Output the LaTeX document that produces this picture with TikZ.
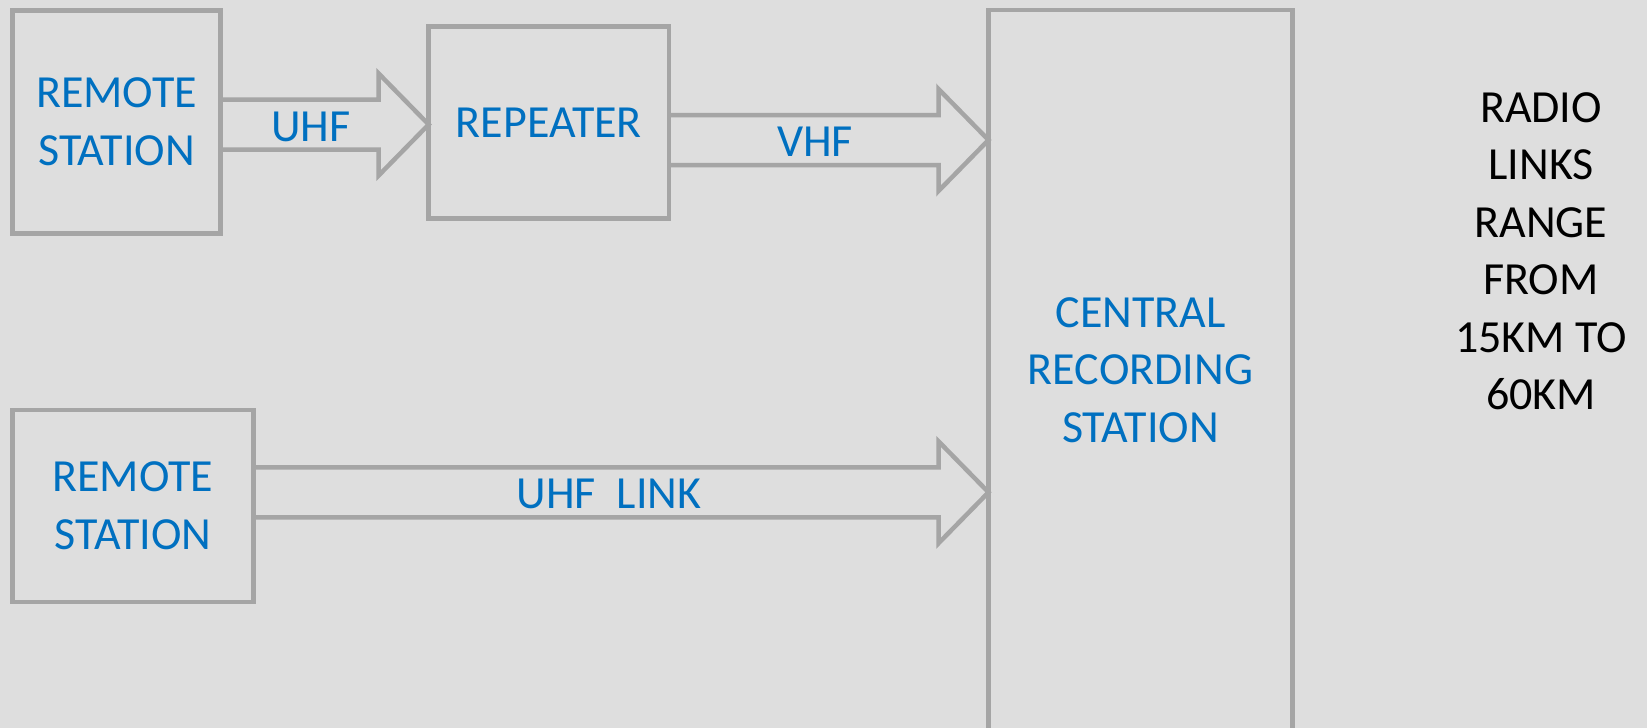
\documentclass[tikz,border=0pt]{standalone}
\usepackage{fontspec}
\setmainfont{Carlito}
\usetikzlibrary{calc}
\definecolor{bg}{HTML}{DEDEDE}
\definecolor{boxgray}{HTML}{A5A5A5}
\definecolor{txtblue}{HTML}{0070C0}
\tikzset{
  stationbox/.style={draw=boxgray, line width=4.5pt, rectangle, inner sep=0pt, outer sep=0pt,
    text=txtblue, align=center, font=\fontsize{46pt}{57.5pt}\selectfont},
  linklabel/.style={text=txtblue, inner sep=0pt, font=\fontsize{46pt}{57.5pt}\selectfont},
  notetext/.style={text=black, align=center, inner sep=0pt, font=\fontsize{46pt}{57.5pt}\selectfont},
  arrowline/.style={draw=boxgray, line width=4.5pt, line join=miter}
}
\newcommand\fatarrow[2]{\draw[arrowline] let \p1=(#1), \p2=(#2) in
  (\x1,\y2+25pt) -- (\x2-50pt,\y2+25pt) -- (\x2-50pt,\y2+51pt) -- (\x2,\y2)
  -- (\x2-50pt,\y2-51pt) -- (\x2-50pt,\y2-25pt) -- (\x1,\y2-25pt);}
\begin{document}
\begin{tikzpicture}[x=1pt,y=-1pt]
\fill[bg] (0,0) rectangle (1647,728);
\useasboundingbox (0,0) rectangle (1647,728);
\begin{scope}
\clip (0,0) rectangle (1647,728);
\node[stationbox, minimum width=208pt, minimum height=222.7pt] (r1) at (116.6,121.9) {REMOTE\\STATION};
\node[stationbox, minimum width=240.5pt, minimum height=192.2pt] (rep) at (548.9,122.4) {REPEATER};
\node[stationbox, minimum width=304pt, minimum height=720pt] (crs) at (1140.5,370) {CENTRAL\\RECORDING\\STATION};
\node[stationbox, minimum width=240.6pt, minimum height=192pt] (r2) at (133,505.8) {REMOTE\\STATION};
\node[notetext] (note) at (1541,251) {RADIO\\LINKS\\RANGE\\FROM\\15KM TO\\60KM};

\coordinate (t1) at ($(rep.west)+(0,2.1)$);
\coordinate (t2) at ($(crs.west |- 0,140)$);
\coordinate (t3) at ($(crs.west |- 0,492.3)$);
\fatarrow{r1.east}{t1}
\fatarrow{rep.east}{t2}
\fatarrow{r2.east}{t3}

\node[linklabel] (l1) at (311,126.5) {UHF};
\node[linklabel] (l2) at (815,142) {VHF};
\node[linklabel] (l3) at (609,494) {UHF\ \ LINK};
\end{scope}
\end{tikzpicture}
\end{document}
